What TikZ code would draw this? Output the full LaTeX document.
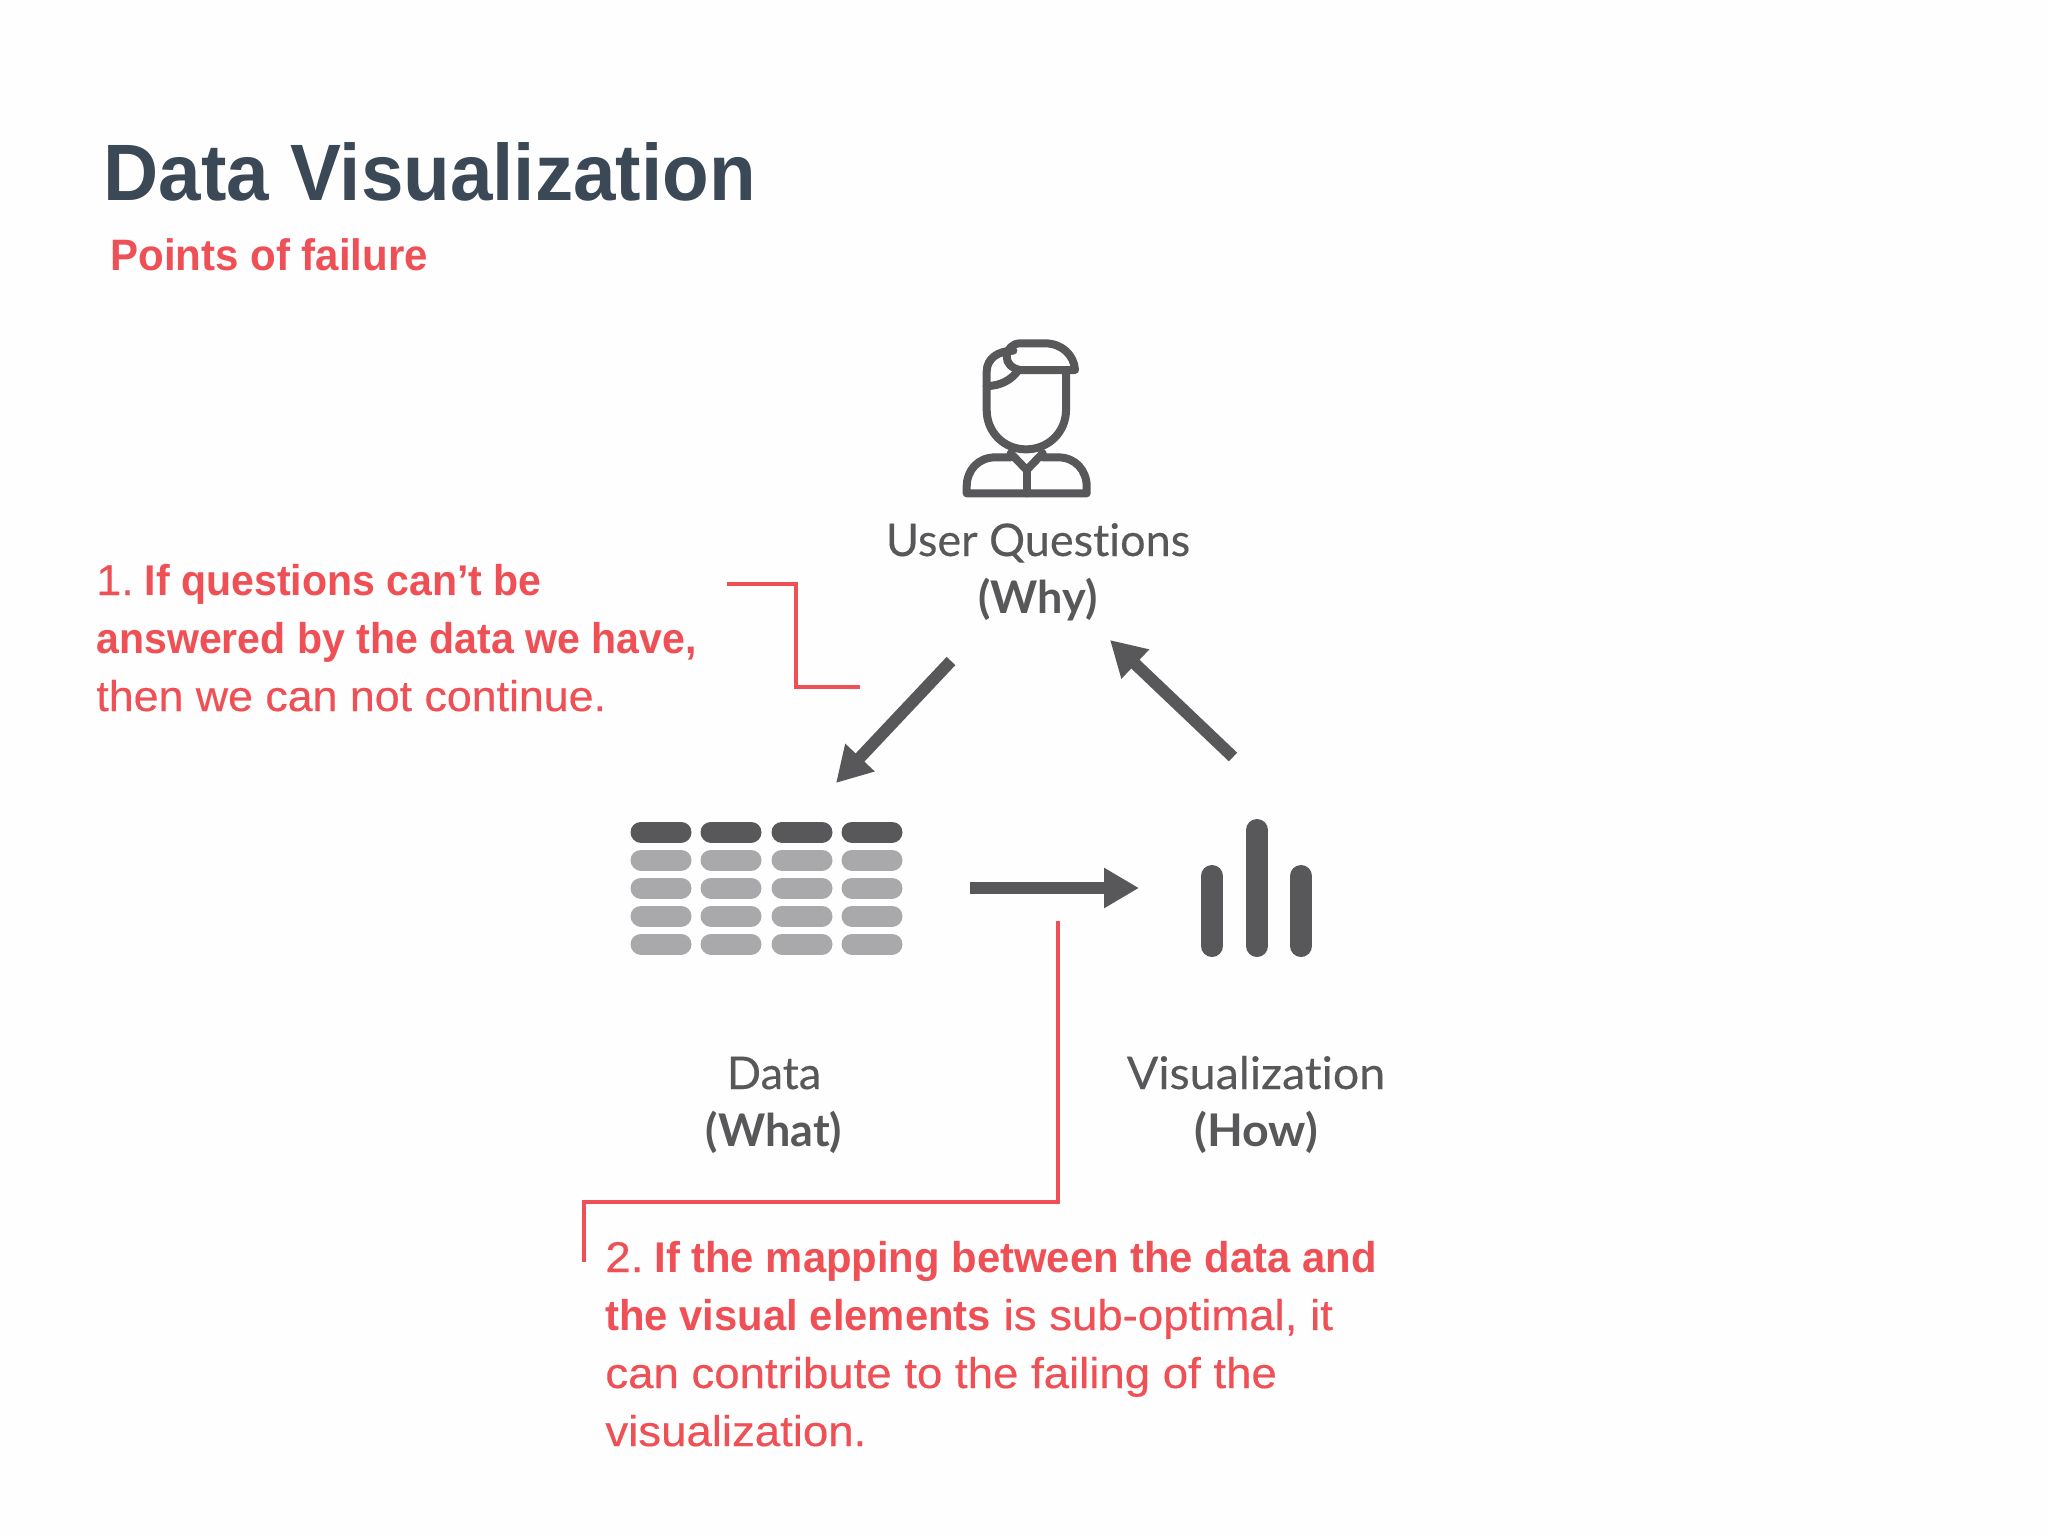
\documentclass[tikz,border=0pt]{standalone}
\usepackage{fontspec}
\setmainfont{Liberation Sans}
\newfontfamily\lab[Ligatures=NoCommon,FakeBold=0.25]{Lato}
\newfontfamily\labw[Ligatures=NoCommon,FakeBold=0.25,FakeStretch=1.035]{Lato}
\newfontfamily\labb[Ligatures=NoCommon,BoldFont=*,UprightFont=* Bold]{Lato}
\newfontfamily\labbw[Ligatures=NoCommon,BoldFont=*,UprightFont=* Bold,FakeStretch=1.035]{Lato}
\newfontfamily\rr[FakeStretch=1.04,FakeBold=0.35]{Liberation Sans}
\newfontfamily\rrw[FakeStretch=1.06,FakeBold=0.35]{Liberation Sans}
\newfontfamily\rb[FakeStretch=0.955]{Liberation Sans Bold}
\newfontfamily\rbw[FakeStretch=0.972]{Liberation Sans Bold}
\usetikzlibrary{arrows.meta}
\definecolor{titlec}{HTML}{3B4856}
\definecolor{redc}{HTML}{EE5056}
\definecolor{darkc}{HTML}{58585A}
\definecolor{grayc}{HTML}{A9A9AB}
\definecolor{bgc}{HTML}{FEFEFE}
\tikzset{
  txt/.style={inner sep=0pt,anchor=base west},
  redtxt/.style={txt,text=redc,font=\rr\fontsize{21.5}{26}\selectfont},
  redwide/.style={txt,text=redc,font=\rrw\fontsize{21.5}{26}\selectfont},
  labtxt/.style={inner sep=0pt,anchor=base,text=darkc,font=\lab\fontsize{22.5}{27}\selectfont},
  labbold/.style={labtxt,font=\labb\fontsize{22.5}{27}\selectfont},
  flow/.style={draw=darkc,line width=6pt,-{Triangle[length=17.5pt,width=19pt]}},
  callout/.style={draw=redc,line width=2pt,line join=miter},
  cell/.style={line width=10.5pt,line cap=round},
  barline/.style={draw=darkc,line width=11pt,line cap=round},
  icon/.style={draw=darkc,line width=4pt,line join=round,line cap=round},
}
\begin{document}
\begin{tikzpicture}[x=0.5pt,y=-0.5pt]
\fill[bgc] (0,0) rectangle (2048,1536);
\useasboundingbox (0,0) rectangle (2048,1536);
% title
\node[txt,text=titlec,font=\rb\fontsize{40}{48}\selectfont] (title) at (103,200) {Data Visualization};
\node[txt,text=redc,font=\rb\fontsize{22}{26}\selectfont] (sub) at (110,270) {Points of failure};
% person icon
\begin{scope}[shift={(920,320)},x=0.1667pt,y=-0.1667pt]
 \draw[icon] (280,92) .. controls (235,92) and (200,115) .. (200,155) -- (200,270)
   .. controls (200,335) and (250,388) .. (318,388) .. controls (386,388) and (438,335) .. (438,270) -- (438,150);
 \draw[icon] (300,70) -- (375,70) .. controls (425,70) and (462,105) .. (465,150) -- (300,150)
   .. controls (275,145) and (260,130) .. (260,110) .. controls (260,88) and (278,70) .. (300,70) -- cycle;
 \draw[icon] (200,198) .. controls (240,198) and (275,180) .. (295,150);
 \draw[icon] (140,520) -- (500,520) -- (500,500) .. controls (500,450) and (465,412) .. (415,412) -- (368,412)
   -- (368,400) -- (320,450) -- (272,400) -- (272,412) -- (225,412) .. controls (175,412) and (140,450) .. (140,500) -- cycle;
 \draw[icon] (320,450) -- (320,520);
\end{scope}
% table icon
\foreach \x in {641,711,782,852}{
  \draw[cell,draw=darkc] (\x,832) -- +(40,0);
  \foreach \y in {860,888,916,944} \draw[cell,draw=grayc] (\x,\y) -- +(40,0);
}
% bars icon
\draw[barline] (1212,876) -- (1212,946);
\draw[barline] (1257,830) -- (1257,946);
\draw[barline] (1301,876) -- (1301,946);
% labels
\node[labtxt] (uq) at (1038,556) {User Questions};
\node[labbold] (why) at (1038,613) {(Why)};
\node[labtxt] (dat) at (774,1089) {Data};
\node[labbold] (what) at (774,1146) {(What)};
\node[labtxt,font=\labw\fontsize{22.5}{27}\selectfont] (vis) at (1256,1089) {Visualization};
\node[labbold,font=\labbw\fontsize{22.5}{27}\selectfont] (how) at (1256,1146) {(How)};
% flow arrows
\coordinate (a1s) at (951,661); \coordinate (a1e) at (836,783);
\coordinate (a2s) at (970,888); \coordinate (a2e) at (1139,888);
\coordinate (a3s) at (1233,757); \coordinate (a3e) at (1110,640);
\draw[flow] (a1s) -- (a1e);
\draw[flow] (a2s) -- (a2e);
\draw[flow] (a3s) -- (a3e);
% callouts
\coordinate (c1a) at (727,584); \coordinate (c1b) at (796,584); \coordinate (c1c) at (796,687); \coordinate (c1d) at (860,687);
\draw[callout] (c1a) -- (c1b) -- (c1c) -- (c1d);
\coordinate (c2a) at (1058,921); \coordinate (c2b) at (1058,1202); \coordinate (c2c) at (584,1202); \coordinate (c2d) at (584,1262);
\draw[callout] (c2a) -- (c2b) -- (c2c) -- (c2d);
% note 1
\node[redtxt] (n11) at (96,595) {1.\hspace{5.5pt}{\rb If questions can’t be}};
\node[redtxt] (n12) at (96,653) {{\rb answered by the data we have,}};
\node[redtxt] (n13) at (96,711) {then we can not continue.};
% note 2
\node[redwide] (n21) at (605,1272) {2.\hspace{5.5pt}{\rbw If the mapping between the data and}};
\node[redwide] (n22) at (605,1330) {{\rbw the visual elements} is sub-optimal, it};
\node[redwide] (n23) at (605,1388) {can contribute to the failing of the};
\node[redwide] (n24) at (605,1446) {visualization.};
\end{tikzpicture}
\end{document}
